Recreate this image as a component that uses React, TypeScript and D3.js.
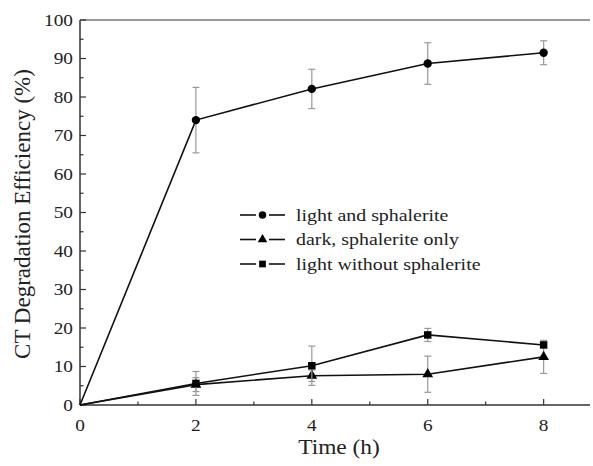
import { useRef, useEffect } from 'react';
import * as d3 from 'd3';

const W = 593;
const H = 466;

const times = [0, 2, 4, 6, 8];
const lightSphalerite = [0, 74.0, 82.1, 88.7, 91.5];
const lightSphaleriteErr = [0, 8.5, 5.1, 5.4, 3.1];
const darkSphalerite = [0, 5.3, 7.6, 8.0, 12.5];
const darkSphaleriteErr = [0, 1.8, 1.5, 4.7, 4.3];
const lightOnly = [0, 5.6, 10.2, 18.2, 15.6];
const lightOnlyErr = [0, 3.1, 5.1, 1.7, 0.6];

const seriesNames = ['light and sphalerite', 'dark, sphalerite only', 'light without sphalerite'];
const yTicks = [0, 10, 20, 30, 40, 50, 60, 70, 80, 90, 100];
const xTicks = [0, 2, 4, 6, 8];

export default function App() {
  const svgRef = useRef<SVGSVGElement>(null);

  useEffect(() => {
    const svg = d3.select(svgRef.current);
    svg.selectAll('*').remove();

    const m = { left: 80, right: 3, top: 20, bottom: 61 };
    const x = d3.scaleLinear().domain([0, 8.8]).range([m.left, W - m.right]);
    const y = d3.scaleLinear().domain([0, 100]).range([H - m.bottom, m.top]);
    const font = 'Liberation Serif, Times New Roman, DejaVu Serif, serif';
    const axisColor = '#333';
    const sx = 1.17; // the original figure's lettering is wide

    // horizontal text, stretched a little sideways like the source
    const label = (tx: number, ty: number, str: string, size: number, anchor: string) =>
      svg.append('g').attr('transform', `translate(${tx},${ty}) scale(${sx},1)`)
        .append('text').attr('text-anchor', anchor).attr('dy', '0.35em')
        .attr('font-family', font).attr('font-size', size).attr('fill', '#222').text(str);

    const series = [
      { name: seriesNames[0], vals: lightSphalerite, err: lightSphaleriteErr, shape: 'circle' },
      { name: seriesNames[1], vals: darkSphalerite, err: darkSphaleriteErr, shape: 'triangle' },
      { name: seriesNames[2], vals: lightOnly, err: lightOnlyErr, shape: 'square' },
    ];

    const symbolFor = (shape: string) =>
      shape === 'circle' ? d3.symbolCircle : shape === 'triangle' ? d3.symbolTriangle : d3.symbolSquare;
    const sizeFor = (shape: string) => (shape === 'circle' ? 55 : shape === 'triangle' ? 50 : 56);

    // frame: left, bottom, top
    svg.append('line').attr('x1', x(0)).attr('x2', x(0)).attr('y1', y(0)).attr('y2', y(100))
      .attr('stroke', axisColor).attr('stroke-width', 1.5);
    svg.append('line').attr('x1', x(0)).attr('x2', W - m.right).attr('y1', y(0)).attr('y2', y(0))
      .attr('stroke', axisColor).attr('stroke-width', 1.5);
    svg.append('line').attr('x1', x(0)).attr('x2', W - m.right).attr('y1', y(100)).attr('y2', y(100))
      .attr('stroke', '#777').attr('stroke-width', 1.5);

    // y ticks (inward)
    d3.range(0, 101, 5).forEach((v) => {
      const major = v % 10 === 0;
      svg.append('line').attr('x1', x(0)).attr('x2', x(0) + (major ? 6 : 3.5))
        .attr('y1', y(v)).attr('y2', y(v)).attr('stroke', axisColor).attr('stroke-width', 1.2);
    });
    yTicks.forEach((d) => label(x(0) - 7, y(d), String(d), 16.5, 'end'));

    // x ticks (inward)
    d3.range(0, 9, 1).forEach((v) => {
      const major = v % 2 === 0;
      svg.append('line').attr('x1', x(v)).attr('x2', x(v))
        .attr('y1', y(0)).attr('y2', y(0) - (major ? 6 : 3.5)).attr('stroke', axisColor).attr('stroke-width', 1.2);
    });
    xTicks.forEach((d) => label(x(d), y(0) + 20, String(d), 16.5, 'middle'));

    label(339, 447, 'Time (h)', 20, 'middle');
    svg.append('text').attr('transform', `translate(30,214) rotate(-90)`)
      .attr('text-anchor', 'middle').attr('font-family', font).attr('font-size', 23).attr('fill', '#222')
      .text('CT Degradation Efficiency (%)');

    const line = d3.line<number>().x((_, i) => x(times[i])).y((d) => y(d));

    series.forEach((s) => {
      // error bars
      const g = svg.append('g');
      s.vals.forEach((v, i) => {
        if (!s.err[i]) return;
        const cx = x(times[i]);
        const top = y(v + s.err[i]);
        const bot = y(v - s.err[i]);
        g.append('line').attr('x1', cx).attr('x2', cx).attr('y1', top).attr('y2', bot)
          .attr('stroke', '#999').attr('stroke-width', 1.2);
        [top, bot].forEach((yy) =>
          g.append('line').attr('x1', cx - 3.5).attr('x2', cx + 3.5).attr('y1', yy).attr('y2', yy)
            .attr('stroke', '#999').attr('stroke-width', 1.2));
      });
      svg.append('path').attr('d', line(s.vals)).attr('fill', 'none')
        .attr('stroke', '#111').attr('stroke-width', 1.6);
      svg.append('g').selectAll('path').data(s.vals.slice(1)).join('path')
        .attr('transform', (d, i) => `translate(${x(times[i + 1])},${y(d)})`)
        .attr('d', d3.symbol().type(symbolFor(s.shape)).size(sizeFor(s.shape)))
        .attr('fill', '#000');
    });

    // legend
    const lx = 240;
    const ly0 = 215;
    const dy = 24.5;
    series.forEach((s, i) => {
      const yy = ly0 + i * dy;
      const g = svg.append('g');
      g.append('line').attr('x1', lx).attr('x2', lx + 16).attr('y1', yy).attr('y2', yy)
        .attr('stroke', '#111').attr('stroke-width', 1.6);
      g.append('line').attr('x1', lx + 29).attr('x2', lx + 45).attr('y1', yy).attr('y2', yy)
        .attr('stroke', '#111').attr('stroke-width', 1.6);
      g.append('path').attr('transform', `translate(${lx + 22.5},${yy})`)
        .attr('d', d3.symbol().type(symbolFor(s.shape)).size(sizeFor(s.shape) * 0.8)).attr('fill', '#000');
      label(lx + 56, yy, s.name, 17, 'start');
    });
  }, []);

  return (
    <svg ref={svgRef} width={W} height={H} style={{ position: 'absolute', left: 0, top: 0, background: '#fff' }} />
  );
}
